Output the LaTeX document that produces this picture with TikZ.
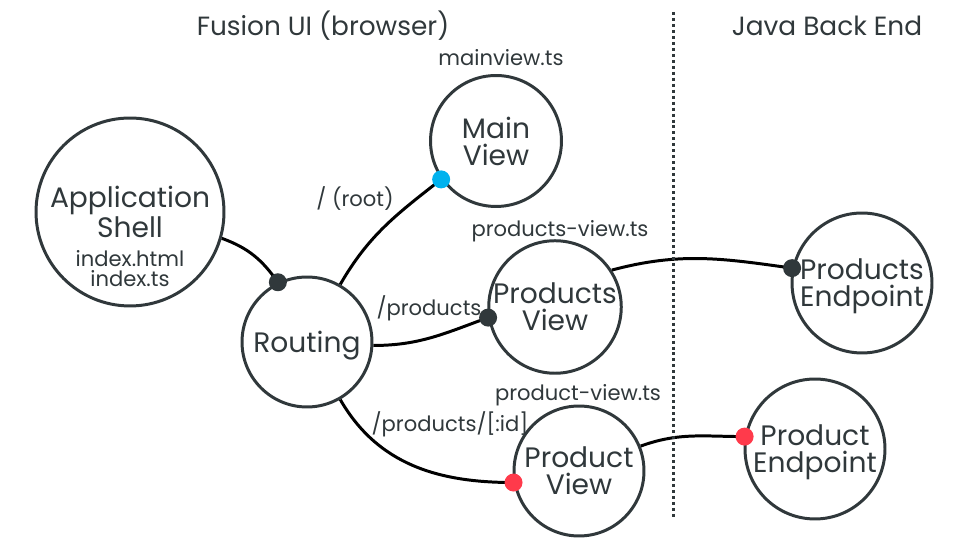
\documentclass[tikz,border=0pt]{standalone}
\usepackage{fontspec}
\setmainfont{Poppins}
\usetikzlibrary{arrows,shapes,backgrounds}

\definecolor{ink}{HTML}{30383B}
\definecolor{pinblue}{HTML}{00B2EE}
\definecolor{pinred}{HTML}{FF3A4B}

\begin{document}
\begin{tikzpicture}[x=0.02cm,y=0.02cm,
            view/.style={circle,draw=ink,line width=1.7pt,fill=white,text=ink,
                align=center,inner sep=0pt,minimum size=2.6cm,text depth=0pt,
                font=\fontsize{16}{15.3}\selectfont},
            viewtxt/.style={text=ink,align=center,inner sep=0pt,
                font=\fontsize{16}{15.3}\selectfont},
            filetxt/.style={text=ink,align=center,inner sep=0pt,
                font=\fontsize{12}{11.3}\selectfont},
            headtxt/.style={text=ink,inner sep=0pt,anchor=base,
                font=\fontsize{15}{18}\selectfont},
            pinmark/.style={circle,fill=#1,inner sep=0pt,minimum size=0.36cm},
            link/.style={line width=1.7pt,black}]
            \useasboundingbox (0,0) rectangle (969,543);

            % titles and border between the two sides
            \node[headtxt] (ui) at (323,507) {Fusion UI (browser)};
            \node[headtxt] (java) at (827,507) {Java Back End};
            \coordinate (sidetop) at (673,531);
            \coordinate (sidebot) at (673,25);
            \draw[ink,line width=1.7pt,dash pattern=on 1.7pt off 1.7pt] (sidetop) -- (sidebot);

            % circles
            \node[view,minimum size=3.76cm] (shell) at (130,331) {};
            \node[viewtxt] (shelltxt) at (130,331) {Application\\Shell};
            \node[filetxt] (shellfiles) at (130,274) {index.html\\index.ts};
            \node[view] (routing) at (307,201) {Routing};
            \node[view,minimum size=2.62cm] (mainview) at (496,402) {Main\\View};
            \node[view] (listview) at (555,236) {Products\\View};
            \node[view] (itemview) at (579,72) {Product\\View};
            \node[view,minimum size=2.8cm] (listend) at (862,260) {Products\\Endpoint};
            \node[view,minimum size=2.8cm] (itemend) at (815,94) {Product\\Endpoint};

            % file names and routes
            \node[filetxt,anchor=base] (mainfile) at (501,477) {mainview.ts};
            \node[filetxt,anchor=base] (listfile) at (560,306) {products-view.ts};
            \node[filetxt,anchor=base] (itemfile) at (578,142) {product-view.ts};
            \node[filetxt,anchor=base] (rootroute) at (355,336) {/ (root)};
            \node[filetxt,anchor=base] (listroute) at (429,227) {/products};
            \node[filetxt,anchor=base] (itemroute) at (450,111) {/products/[:id]};

            % pins
            \node[pinmark=ink] (routepin) at (routing.116) {};
            \node[pinmark=pinblue] (mainpin) at (mainview.215) {};
            \node[pinmark=ink] (listpin) at (listview.189) {};
            \node[pinmark=pinred] (itempin) at (itemview.190) {};
            \node[pinmark=ink] (listendpin) at (listend.168) {};
            \node[pinmark=pinred] (itemendpin) at (itemend.170) {};

            \begin{pgfonlayer}{background}
            \path[link] (shell.-16) edge[out=-20,in=125] (routepin.center)
                  (routing.60) edge[out=60,in=218] (mainpin.center)
                  (routing.-3) edge[out=0,in=200] (listpin.center)
                  (routing.-60) edge[out=-60,in=180] (itempin.center)
                  (listview.33) edge[out=15,in=172] (listendpin.center)
                  (itemview.22) edge[out=20,in=180] (itemendpin.center);
            \end{pgfonlayer}
\end{tikzpicture}
\end{document}
